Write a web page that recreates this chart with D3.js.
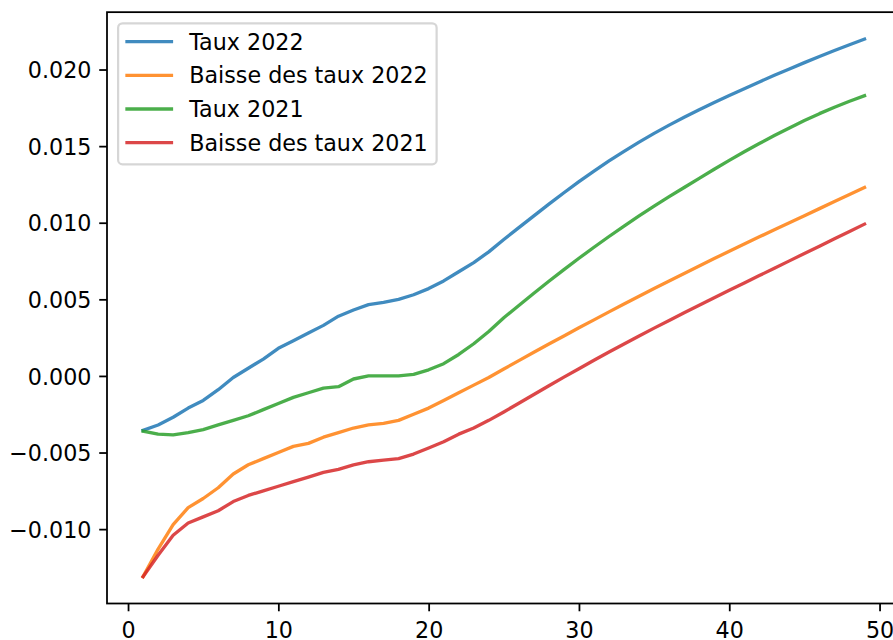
<!DOCTYPE html>
<html>
<head>
<meta charset="utf-8">
<script src="https://cdn.jsdelivr.net/npm/d3@7"></script>
<style>
  html, body { margin: 0; padding: 0; background: #ffffff; }
  svg { display: block; }
  text { font-family: "DejaVu Sans", sans-serif; }
</style>
</head>
<body>
<svg id="chart" width="893" height="640"></svg>
<script>
// Horizon (1..49) and the four rate curves
const horizon = d3.range(1, 50);

const taux2022 = [
  -0.00355, -0.0032, -0.0027, -0.0021, -0.0016, -0.0009, -0.0001, 0.0005, 0.0011, 0.0018,
  0.0023, 0.0028, 0.0033, 0.0039, 0.0043, 0.00465, 0.0048, 0.0050, 0.0053, 0.0057,
  0.0062, 0.0068, 0.0074, 0.0081, 0.0089, 0.00968, 0.01045, 0.01121, 0.01196, 0.01268,
  0.01337, 0.01403, 0.01466, 0.01526, 0.01583, 0.01637, 0.01688, 0.01737, 0.01784, 0.01830,
  0.01875, 0.01919, 0.01962, 0.02004, 0.02045, 0.02085, 0.02124, 0.02162, 0.02199
];

const baisse2022 = [
  -0.0131, -0.0113, -0.0097, -0.0086, -0.0080, -0.0073, -0.0064, -0.0058, -0.0054, -0.0050,
  -0.0046, -0.0044, -0.0040, -0.0037, -0.0034, -0.0032, -0.0031, -0.0029, -0.0025, -0.0021,
  -0.0016, -0.0011, -0.0006, -0.0001, 0.00045, 0.00100, 0.00154, 0.00208, 0.00261, 0.00314,
  0.00366, 0.00418, 0.00469, 0.00520, 0.00570, 0.00620, 0.00669, 0.00718, 0.00766, 0.00814,
  0.00861, 0.00908, 0.00954, 0.01000, 0.01046, 0.01092, 0.01138, 0.01184, 0.01230
];

const taux2021 = [
  -0.0036, -0.0038, -0.00385, -0.0037, -0.0035, -0.0032, -0.0029, -0.0026, -0.0022, -0.0018,
  -0.0014, -0.0011, -0.0008, -0.0007, -0.0002, 0.0000, 0.0000, 0.0000, 0.0001, 0.0004,
  0.0008, 0.0014, 0.0021, 0.0029, 0.0038, 0.0046, 0.0054, 0.00618, 0.00694, 0.00768,
  0.00840, 0.00910, 0.00978, 0.01044, 0.01108, 0.01170, 0.01230, 0.01290, 0.01349, 0.01407,
  0.01463, 0.01517, 0.01569, 0.01619, 0.01667, 0.01712, 0.01754, 0.01793, 0.01829
];

const baisse2021 = [
  -0.0131, -0.0117, -0.0104, -0.0096, -0.0092, -0.0088, -0.0082, -0.0078, -0.0075, -0.0072,
  -0.0069, -0.0066, -0.0063, -0.0061, -0.0058, -0.0056, -0.0055, -0.0054, -0.0051, -0.0047,
  -0.0043, -0.0038, -0.0034, -0.0029, -0.00235, -0.00178, -0.00121, -0.00064, -0.00008, 0.00047,
  0.00102, 0.00156, 0.00209, 0.00261, 0.00312, 0.00362, 0.00412, 0.00461, 0.00510, 0.00559,
  0.00607, 0.00655, 0.00703, 0.00751, 0.00799, 0.00847, 0.00895, 0.00943, 0.00991
];

const seriesNames = ["Taux 2022", "Baisse des taux 2022", "Taux 2021", "Baisse des taux 2021"];
const seriesValues = [taux2022, baisse2022, taux2021, baisse2021];
const seriesColors = ["#1f77b4", "#ff7f0e", "#2ca02c", "#d62728"];

const xTicks = [0, 10, 20, 30, 40, 50];
const yTicks = [-0.010, -0.005, 0.000, 0.005, 0.010, 0.015, 0.020];

// ---- layout (points scaled to pixels) ----
const pt = 160 / 72;
const fontSize = 10 * pt;
const plot = { left: 107, right: 900.6, top: 12.16, bottom: 603.5 };

const svg = d3.select("#chart");

// Domains padded by 5% on each side
const xMin = d3.min(horizon), xMax = d3.max(horizon);
const xPad = (xMax - xMin) * 0.05;
const allVals = seriesValues.flat();
const yMin = d3.min(allVals), yMax = d3.max(allVals);
const yPad = (yMax - yMin) * 0.05;

const x = d3.scaleLinear().domain([xMin - xPad, xMax + xPad]).range([plot.left, plot.right]);
const y = d3.scaleLinear().domain([yMin - yPad, yMax + yPad]).range([plot.bottom, plot.top]);

// ---- lines ----
svg.append("defs").append("clipPath").attr("id", "plot-clip")
  .append("rect")
  .attr("x", plot.left).attr("y", plot.top)
  .attr("width", plot.right - plot.left).attr("height", plot.bottom - plot.top);

const line = d3.line().x((d, i) => x(horizon[i])).y(d => y(d));

svg.append("g").attr("clip-path", "url(#plot-clip)")
  .selectAll("path")
  .data(seriesValues)
  .join("path")
  .attr("d", d => line(d))
  .attr("fill", "none")
  .attr("stroke", (d, i) => seriesColors[i])
  .attr("stroke-opacity", 0.85)
  .attr("stroke-width", 1.5 * pt)
  .attr("stroke-linejoin", "round")
  .attr("stroke-linecap", "square");

// ---- axes ----
const tickLen = 3.5 * pt;
const tickPad = 3.5 * pt;
const spineW = 0.8 * pt;

const xAxis = d3.axisBottom(x).tickValues(xTicks).tickFormat(d3.format("d"))
  .tickSizeInner(tickLen).tickSizeOuter(0).tickPadding(tickPad);
const gx = svg.append("g").attr("transform", `translate(0,${plot.bottom})`).call(xAxis);
gx.select(".domain").remove();
gx.selectAll(".tick line").attr("stroke", "#000").attr("stroke-width", spineW);
gx.selectAll(".tick text")
  .attr("fill", "#000")
  .attr("font-size", fontSize)
  .attr("font-family", "DejaVu Sans")
  .attr("dy", null)
  .attr("y", tickLen + tickPad + 0.73 * fontSize + 3.0);

const yAxis = d3.axisLeft(y).tickValues(yTicks).tickFormat(d3.format(".3f"))
  .tickSizeInner(tickLen).tickSizeOuter(0).tickPadding(tickPad);
const gy = svg.append("g").attr("transform", `translate(${plot.left},0)`).call(yAxis);
gy.select(".domain").remove();
gy.selectAll(".tick line").attr("stroke", "#000").attr("stroke-width", spineW);
gy.selectAll(".tick text")
  .attr("fill", "#000")
  .attr("font-size", fontSize)
  .attr("font-family", "DejaVu Sans")
  .attr("dy", null)
  .attr("y", 0.365 * fontSize);

// ---- spines ----
svg.append("rect")
  .attr("x", plot.left).attr("y", plot.top)
  .attr("width", plot.right - plot.left).attr("height", plot.bottom - plot.top)
  .attr("fill", "none").attr("stroke", "#000").attr("stroke-width", spineW);

// ---- legend ----
const lgX = plot.left + 0.5 * fontSize;
const lgY = plot.top + 0.5 * fontSize;
const borderPad = 0.4 * fontSize;
const handleLen = 2.0 * fontSize;
const handleGap = 0.8 * fontSize;
const rowStep = 33.65;
const firstRow = 18.4;

const lg = svg.append("g");
const frame = lg.append("rect");

const labels = lg.selectAll("text")
  .data(seriesNames)
  .join("text")
  .attr("x", lgX + borderPad + handleLen + handleGap)
  .attr("y", (d, i) => lgY + firstRow + i * rowStep + 0.365 * fontSize)
  .attr("font-size", fontSize)
  .attr("fill", "#000")
  .text(d => d);

lg.selectAll("line")
  .data(seriesNames)
  .join("line")
  .attr("x1", lgX + borderPad)
  .attr("x2", lgX + borderPad + handleLen)
  .attr("y1", (d, i) => lgY + firstRow + i * rowStep)
  .attr("y2", (d, i) => lgY + firstRow + i * rowStep)
  .attr("stroke", (d, i) => seriesColors[i])
  .attr("stroke-opacity", 0.85)
  .attr("stroke-width", 1.5 * pt)
  .attr("stroke-linecap", "square");

let maxW = 0;
labels.each(function () { maxW = Math.max(maxW, this.getComputedTextLength()); });
const frameW = borderPad + handleLen + handleGap + maxW + borderPad;
const frameH = firstRow * 2 + (seriesNames.length - 1) * rowStep + 3.3;

frame
  .attr("x", lgX).attr("y", lgY)
  .attr("width", frameW).attr("height", frameH)
  .attr("rx", 0.2 * fontSize).attr("ry", 0.2 * fontSize)
  .attr("fill", "#ffffff").attr("fill-opacity", 0.8)
  .attr("stroke", "#cccccc").attr("stroke-opacity", 0.8)
  .attr("stroke-width", 1.0 * pt);
</script>
</body>
</html>
